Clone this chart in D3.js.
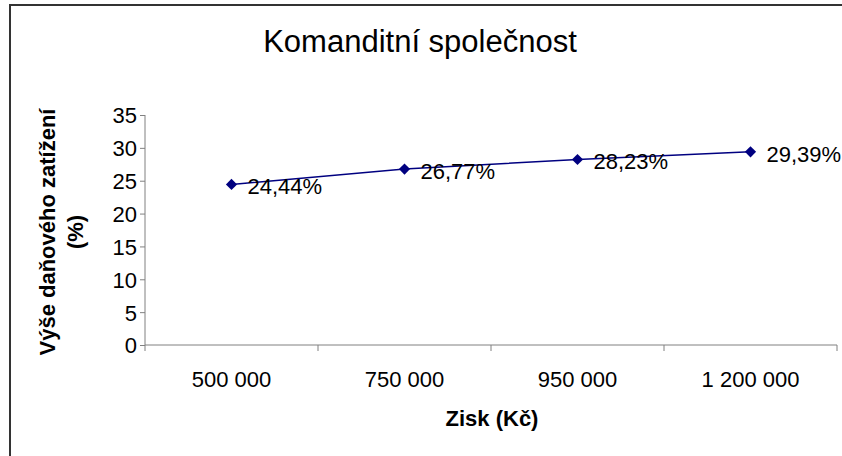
<!DOCTYPE html>
<html>
<head>
<meta charset="utf-8">
<script src="https://cdn.jsdelivr.net/npm/d3@7/dist/d3.min.js"></script>
<style>
  body { margin: 0; background: #fff; }
  text { font-family: "Liberation Sans", Arial, sans-serif; fill: #000; }
</style>
</head>
<body>
<div id="chart"></div>
<script>
// data
var categories = ['500 000', '750 000', '950 000', '1 200 000'];
var values = [24.44, 26.77, 28.23, 29.39];
var valueLabels = ['24,44%', '26,77%', '28,23%', '29,39%'];
var yTicks = [0, 5, 10, 15, 20, 25, 30, 35];

var attrs = {
  svgWidth: 842,
  svgHeight: 456,
  marginTop: 115,
  marginLeft: 145,
  marginRight: 5,
  marginBottom: 111,
  fontSize: 22
};

var calc = {};
calc.chartWidth = attrs.svgWidth - attrs.marginLeft - attrs.marginRight;
calc.chartHeight = attrs.svgHeight - attrs.marginTop - attrs.marginBottom;

var svg = d3.select('#chart').append('svg')
  .attr('width', attrs.svgWidth)
  .attr('height', attrs.svgHeight);

// outer frame (only top & left visible)
svg.append('path')
  .attr('d', 'M10,456 V5 H842')
  .attr('fill', 'none')
  .attr('stroke', '#333')
  .attr('stroke-width', 2);

svg.append('text')
  .attr('x', 420)
  .attr('y', 52)
  .attr('text-anchor', 'middle')
  .attr('font-size', 31)
  .text('Komanditní společnost');

var chart = svg.append('g')
  .attr('transform', 'translate(' + attrs.marginLeft + ',' + attrs.marginTop + ')');

var xScale = d3.scaleBand()
  .domain(categories)
  .range([0, calc.chartWidth]);

var yScale = d3.scaleLinear()
  .domain([0, 35])
  .range([calc.chartHeight, 0]);

// y axis
var yAxis = d3.axisLeft(yScale).tickValues(yTicks).tickSize(5).tickPadding(3);
var gy = chart.append('g').call(yAxis);
gy.select('.domain').attr('stroke', '#808080').attr('d', 'M0,0 V' + calc.chartHeight);
gy.selectAll('.tick line').attr('stroke', '#808080');
gy.selectAll('.tick text')
  .attr('font-size', attrs.fontSize)
  .attr('font-family', '"Liberation Sans", Arial, sans-serif')
  .attr('dy', '0.36em');

// x axis
var xAxis = d3.axisBottom(xScale).tickSize(0).tickPadding(26);
var gx = chart.append('g')
  .attr('transform', 'translate(0,' + calc.chartHeight + ')')
  .call(xAxis);
gx.select('.domain').attr('stroke', '#808080').attr('d', 'M0,0 H' + calc.chartWidth);
gx.selectAll('.tick text')
  .attr('font-size', attrs.fontSize)
  .attr('font-family', '"Liberation Sans", Arial, sans-serif');

// x tick marks at band edges
var edges = categories.map(function (c) { return xScale(c); }).concat([calc.chartWidth]);
gx.selectAll('.edge')
  .data(edges)
  .enter().append('line')
  .attr('class', 'edge')
  .attr('x1', function (d) { return d; })
  .attr('x2', function (d) { return d; })
  .attr('y1', 0)
  .attr('y2', 6)
  .attr('stroke', '#808080');

// axis titles
svg.append('text')
  .attr('x', 492)
  .attr('y', 426)
  .attr('text-anchor', 'middle')
  .attr('font-size', attrs.fontSize)
  .attr('font-weight', 'bold')
  .text('Zisk (Kč)');

var yTitle = svg.append('text')
  .attr('transform', 'translate(55,232) rotate(-90)')
  .attr('text-anchor', 'middle')
  .attr('font-size', attrs.fontSize)
  .attr('font-weight', 'bold');
yTitle.append('tspan').attr('x', 0).attr('dy', 0).text('Výše daňového zatížení');
yTitle.append('tspan').attr('x', 0).attr('dy', 28).text('(%)');

// line + markers
var cx = function (d, i) { return xScale(categories[i]) + xScale.bandwidth() / 2; };
var line = d3.line()
  .x(function (d, i) { return cx(d, i); })
  .y(function (d) { return yScale(d); });

chart.append('path')
  .datum(values)
  .attr('d', line)
  .attr('fill', 'none')
  .attr('stroke', '#000080')
  .attr('stroke-width', 1.5);

chart.selectAll('.marker')
  .data(values)
  .enter().append('path')
  .attr('class', 'marker')
  .attr('d', d3.symbol().type(d3.symbolDiamond2).size(80))
  .attr('transform', function (d, i) { return 'translate(' + cx(d, i) + ',' + yScale(d) + ')'; })
  .attr('fill', '#000080');

chart.selectAll('.dlabel')
  .data(values)
  .enter().append('text')
  .attr('class', 'dlabel')
  .attr('x', function (d, i) { return cx(d, i) + 16; })
  .attr('y', function (d) { return yScale(d) + 10; })
  .attr('font-size', attrs.fontSize)
  .text(function (d, i) { return valueLabels[i]; });
</script>
</body>
</html>
